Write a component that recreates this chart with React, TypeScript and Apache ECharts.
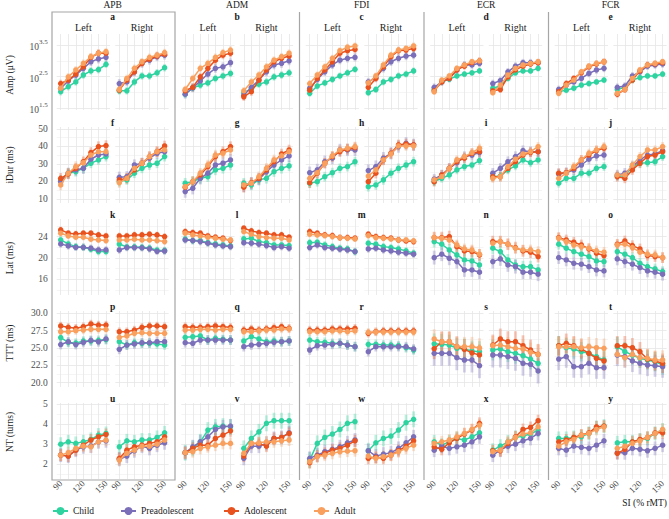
import React, { useEffect, useRef } from 'react';
import * as echarts from 'echarts';

const SI = [90, 100, 110, 120, 130, 140, 150];
const SI_LABELS = [90, 120, 150];
const MUSCLES = ['APB', 'ADM', 'FDI', 'ECR', 'FCR'];
const SIDES = ['Left', 'Right'];
const GROUPS = ['Child', 'Preadolescent', 'Adolescent', 'Adult'];
const COLORS = ['#2fd3a0', '#7a6fb8', '#e8521e', '#f9a05e'];
const LETTERS = [
  ['a', 'b', 'c', 'd', 'e'],
  ['f', 'g', 'h', 'i', 'j'],
  ['k', 'l', 'm', 'n', 'o'],
  ['p', 'q', 'r', 's', 't'],
  ['u', 'v', 'w', 'x', 'y'],
];
const Y_TITLES = ['Amp (μV)', 'iDur (ms)', 'Lat (ms)', 'TTT (ms)', 'NT (turns)'];

// panel order: APB L, APB R, ADM L, ADM R, FDI L, FDI R, ECR L, ECR R, FCR L, FCR R
// Amp in log10(µV)
const ampChild = [
  [2.02, 2.18, 2.33, 2.55, 2.68, 2.72, 2.89],
  [2.05, 2.05, 2.33, 2.52, 2.52, 2.62, 2.78],
  [1.94, 2.14, 2.23, 2.30, 2.44, 2.52, 2.60],
  [1.99, 2.12, 2.26, 2.33, 2.49, 2.55, 2.62],
  [1.97, 2.20, 2.30, 2.41, 2.52, 2.62, 2.73],
  [1.99, 2.09, 2.33, 2.41, 2.52, 2.58, 2.68],
  [2.09, 2.33, 2.42, 2.52, 2.58, 2.62, 2.68],
  [2.13, 2.20, 2.44, 2.62, 2.68, 2.68, 2.76],
  [2.02, 2.07, 2.13, 2.23, 2.28, 2.33, 2.39],
  [2.09, 2.16, 2.39, 2.47, 2.52, 2.52, 2.58],
];
const ampPread = [
  [2.13, 2.36, 2.55, 2.76, 2.97, 3.06, 3.11],
  [2.28, 2.33, 2.65, 2.92, 3.02, 3.13, 3.18],
  [1.94, 2.14, 2.36, 2.58, 2.76, 2.81, 2.94],
  [1.91, 2.16, 2.39, 2.65, 2.87, 2.92, 3.00],
  [2.13, 2.41, 2.65, 2.87, 3.02, 3.08, 3.11],
  [2.33, 2.47, 2.76, 2.97, 3.08, 3.15, 3.18],
  [2.16, 2.33, 2.44, 2.71, 2.87, 2.87, 2.92],
  [2.28, 2.37, 2.65, 2.83, 2.94, 2.94, 2.94],
  [2.09, 2.23, 2.33, 2.44, 2.60, 2.71, 2.76],
  [2.16, 2.20, 2.52, 2.65, 2.83, 2.87, 2.90],
];
const ampAdol = [
  [2.28, 2.39, 2.58, 2.81, 3.11, 3.24, 3.24],
  [2.07, 2.39, 2.65, 2.92, 3.05, 3.15, 3.21],
  [2.05, 2.16, 2.49, 2.76, 3.02, 3.18, 3.24],
  [1.86, 2.02, 2.39, 2.71, 2.97, 3.08, 3.15],
  [2.07, 2.44, 2.71, 2.97, 3.24, 3.32, 3.36],
  [2.16, 2.44, 2.81, 3.13, 3.32, 3.34, 3.39],
  [2.05, 2.33, 2.44, 2.71, 2.83, 2.94, 3.00],
  [2.05, 2.09, 2.49, 2.71, 2.83, 2.90, 2.94],
  [2.02, 2.28, 2.44, 2.62, 2.81, 2.90, 2.97],
  [1.94, 2.09, 2.39, 2.68, 2.87, 2.90, 2.94],
];
const ampAdult = [
  [2.13, 2.49, 2.71, 2.92, 3.13, 3.24, 3.29],
  [2.09, 2.44, 2.76, 2.97, 3.11, 3.18, 3.26],
  [2.09, 2.44, 2.76, 2.92, 3.11, 3.26, 3.34],
  [2.05, 2.33, 2.55, 2.81, 3.02, 3.13, 3.24],
  [2.28, 2.55, 2.81, 3.08, 3.32, 3.43, 3.47],
  [2.30, 2.52, 2.87, 3.18, 3.34, 3.39, 3.47],
  [2.02, 2.39, 2.52, 2.76, 2.87, 2.97, 3.00],
  [1.99, 2.23, 2.55, 2.76, 2.87, 2.92, 2.97],
  [1.97, 2.23, 2.39, 2.65, 2.83, 2.92, 2.97],
  [1.97, 2.09, 2.44, 2.71, 2.87, 2.92, 2.97],
];

const idurChild = [
  [20.9, 24.7, 25.6, 27.5, 30.4, 32.3, 34.2],
  [19.9, 20.9, 24.7, 27.5, 29.4, 30.4, 34.2],
  [19.0, 19.9, 21.8, 22.7, 26.6, 27.5, 29.4],
  [19.0, 18.0, 20.9, 21.8, 25.6, 27.5, 28.9],
  [19.0, 19.9, 22.7, 25.0, 27.5, 28.5, 31.3],
  [17.0, 18.0, 20.9, 24.7, 27.5, 29.4, 31.3],
  [19.9, 21.8, 23.7, 26.6, 28.5, 29.4, 31.9],
  [22.7, 23.1, 26.6, 28.9, 32.3, 30.7, 32.3],
  [19.0, 21.8, 21.8, 24.7, 24.7, 27.5, 28.5],
  [23.1, 23.1, 28.5, 30.4, 30.7, 31.3, 34.2],
];
const idurPread = [
  [19.9, 24.7, 26.6, 27.5, 32.7, 35.1, 35.7],
  [22.4, 22.7, 29.4, 30.4, 33.3, 36.1, 37.0],
  [14.2, 16.1, 21.8, 24.7, 29.4, 30.4, 32.3],
  [17.4, 19.0, 21.3, 25.6, 29.4, 32.3, 34.6],
  [25.0, 26.6, 31.3, 33.3, 38.0, 38.0, 38.0],
  [26.2, 28.5, 33.3, 36.1, 39.9, 41.8, 40.9],
  [21.3, 23.7, 27.5, 30.7, 34.2, 35.1, 36.5],
  [24.7, 27.5, 31.3, 34.2, 37.6, 37.0, 37.0],
  [24.3, 25.0, 26.6, 29.4, 32.7, 34.6, 35.1],
  [23.7, 24.7, 28.5, 32.3, 35.1, 35.7, 37.6],
];
const idurAdol = [
  [21.8, 24.3, 27.5, 31.3, 36.5, 39.9, 40.5],
  [20.9, 21.8, 26.6, 30.4, 34.2, 37.0, 40.3],
  [16.7, 19.9, 23.7, 28.5, 34.2, 37.0, 39.9],
  [16.7, 19.3, 21.8, 26.6, 31.3, 35.7, 38.0],
  [19.3, 24.7, 30.4, 34.2, 37.0, 38.4, 39.3],
  [19.9, 24.7, 32.3, 36.1, 40.9, 41.4, 40.9],
  [19.9, 23.7, 27.5, 31.3, 33.3, 36.1, 37.0],
  [22.7, 22.7, 27.5, 31.3, 35.1, 36.5, 37.0],
  [24.7, 25.0, 27.5, 32.3, 35.1, 37.6, 39.0],
  [22.7, 21.8, 26.6, 30.4, 34.2, 35.1, 37.0],
];
const idurAdult = [
  [18.0, 24.7, 28.5, 30.7, 35.1, 37.0, 37.0],
  [19.3, 21.8, 27.5, 30.4, 34.2, 37.0, 38.0],
  [17.0, 19.9, 24.7, 29.4, 35.1, 36.1, 38.0],
  [18.0, 19.0, 22.7, 27.5, 32.3, 34.6, 37.0],
  [21.8, 25.0, 30.4, 34.6, 38.0, 39.0, 39.9],
  [23.1, 26.6, 32.3, 35.7, 40.3, 40.3, 40.3],
  [20.9, 22.7, 27.5, 32.3, 34.2, 36.5, 39.0],
  [21.8, 22.7, 28.5, 32.7, 35.7, 37.0, 39.9],
  [21.8, 24.7, 28.5, 32.3, 36.1, 38.0, 39.9],
  [23.7, 23.7, 29.4, 34.2, 38.0, 38.0, 39.9],
];

const latChild = [
  [23.38, 22.63, 22.12, 22.0, 21.64, 21.19, 21.19],
  [22.6, 22.05, 22.05, 22.0, 21.85, 21.45, 21.4],
  [23.51, 23.25, 23.25, 22.87, 22.63, 22.44, 22.26],
  [23.57, 23.7, 23.06, 22.87, 22.44, 22.44, 22.31],
  [22.87, 22.95, 22.44, 22.12, 21.82, 21.69, 21.19],
  [22.76, 22.57, 22.12, 21.94, 21.69, 21.32, 20.89],
  [23.06, 22.57, 21.5, 20.57, 19.63, 19.44, 18.69],
  [21.82, 21.19, 19.63, 18.69, 18.37, 18.37, 17.75],
  [22.57, 21.82, 21.19, 20.7, 20.25, 19.44, 19.31],
  [21.19, 20.7, 20.06, 19.0, 18.37, 17.94, 17.44],
];
const latPread = [
  [22.63, 22.26, 22.0, 22.0, 21.82, 21.5, 21.5],
  [21.5, 21.95, 21.95, 21.9, 21.7, 21.25, 21.3],
  [23.38, 23.25, 23.06, 22.76, 22.44, 22.26, 22.12],
  [22.87, 22.76, 22.57, 22.31, 21.94, 22.12, 21.82],
  [21.94, 22.44, 21.94, 21.82, 21.64, 21.5, 21.19],
  [21.69, 21.82, 21.5, 21.32, 21.07, 20.89, 20.7],
  [20.06, 20.7, 19.94, 19.31, 17.75, 17.75, 17.32],
  [19.31, 19.82, 18.69, 18.37, 17.32, 17.32, 16.95],
  [20.06, 19.63, 19.0, 18.82, 18.37, 17.75, 17.57],
  [19.82, 19.31, 18.82, 18.19, 17.57, 17.32, 16.95],
];
const latAdol = [
  [25.26, 24.64, 24.51, 24.64, 24.64, 24.32, 24.13],
  [24.13, 24.13, 24.32, 24.32, 24.45, 24.32, 24.0],
  [24.94, 24.75, 24.64, 24.13, 23.89, 23.7, 23.25],
  [25.58, 25.07, 24.75, 24.64, 24.32, 24.32, 23.89],
  [24.94, 24.64, 24.32, 24.19, 23.81, 23.81, 23.7],
  [24.45, 24.0, 23.81, 23.7, 23.38, 23.19, 23.06],
  [23.81, 23.81, 24.0, 22.12, 21.32, 21.19, 20.57],
  [23.06, 23.06, 22.57, 21.94, 21.32, 21.07, 20.25],
  [23.81, 23.38, 22.95, 22.44, 21.69, 20.89, 20.44],
  [22.57, 23.19, 22.31, 21.69, 20.44, 20.25, 20.06],
];
const latAdult = [
  [24.64, 24.13, 23.89, 23.89, 23.51, 23.38, 23.25],
  [23.38, 23.38, 23.51, 23.38, 23.38, 23.25, 23.06],
  [24.64, 24.32, 24.13, 23.89, 23.7, 23.51, 23.38],
  [24.94, 24.45, 24.0, 23.81, 23.7, 23.7, 23.38],
  [24.45, 24.32, 24.19, 24.0, 23.81, 23.7, 23.57],
  [24.19, 23.81, 23.7, 23.57, 23.38, 23.38, 23.19],
  [23.81, 23.7, 23.38, 22.44, 21.69, 21.5, 20.7],
  [22.76, 23.06, 22.57, 21.82, 21.5, 21.5, 21.19],
  [23.7, 23.06, 22.44, 22.12, 21.82, 21.32, 21.07],
  [22.44, 22.57, 21.94, 21.07, 20.7, 20.57, 20.06],
];

const tttChild = [
  [26.5, 25.8, 25.7, 26.0, 26.0, 26.1, 26.2],
  [25.91, 25.43, 25.76, 25.68, 25.68, 25.58, 25.43],
  [26.54, 26.63, 26.73, 26.15, 26.4, 26.25, 26.15],
  [26.01, 26.63, 26.3, 25.91, 26.01, 25.91, 26.01],
  [26.15, 25.91, 25.82, 25.68, 25.68, 25.43, 25.19],
  [25.53, 25.53, 25.43, 25.43, 25.33, 25.04, 24.71],
  [25.6, 25.53, 25.43, 24.96, 24.86, 24.57, 24.47],
  [24.71, 24.86, 24.47, 24.24, 23.89, 23.41, 22.8],
  [25.33, 25.04, 24.86, 24.47, 24.24, 23.75, 23.27],
  [25.19, 24.47, 23.99, 23.52, 23.27, 23.03, 22.55],
];
const tttPread = [
  [25.5, 25.9, 25.5, 25.8, 26.1, 25.9, 26.3],
  [24.81, 25.43, 25.58, 25.76, 25.76, 25.91, 25.91],
  [25.76, 25.68, 26.15, 26.15, 26.15, 26.15, 26.15],
  [25.19, 25.43, 25.53, 25.68, 25.82, 25.91, 26.01],
  [24.71, 25.33, 25.43, 25.53, 25.68, 25.43, 25.19],
  [24.47, 25.19, 25.19, 25.19, 25.19, 25.19, 24.86],
  [24.24, 24.24, 24.24, 23.6, 23.27, 23.27, 22.45],
  [23.99, 23.99, 23.75, 23.52, 22.8, 22.65, 21.69],
  [23.41, 23.75, 22.31, 22.31, 22.8, 22.16, 22.16],
  [23.99, 23.75, 23.13, 22.8, 22.55, 22.45, 22.31],
];
const tttAdol = [
  [28.17, 27.98, 27.84, 28.07, 28.46, 28.31, 28.31],
  [27.35, 27.35, 27.59, 27.98, 28.17, 28.17, 28.07],
  [28.07, 27.98, 27.98, 28.07, 28.17, 28.07, 27.98],
  [27.59, 27.74, 27.59, 27.74, 27.93, 28.07, 27.84],
  [27.59, 27.59, 27.59, 27.74, 27.74, 27.74, 27.84],
  [27.12, 27.35, 27.45, 27.45, 27.45, 27.45, 27.45],
  [24.9, 25.9, 25.9, 25.2, 24.8, 24.3, 24.0],
  [25.43, 26.3, 25.91, 25.91, 25.33, 24.71, 24.09],
  [25.33, 25.68, 25.33, 24.86, 24.24, 23.52, 23.13],
  [25.33, 25.33, 25.04, 24.47, 23.41, 23.13, 22.8],
];
const tttAdult = [
  [27.35, 27.35, 27.49, 27.59, 27.69, 27.69, 27.69],
  [26.54, 26.73, 27.12, 27.2, 27.12, 27.12, 27.12],
  [27.59, 27.59, 27.69, 27.69, 27.59, 27.69, 27.69],
  [27.35, 27.35, 27.45, 27.59, 27.59, 27.74, 27.74],
  [27.35, 27.35, 27.35, 27.45, 27.45, 27.35, 27.45],
  [27.26, 27.3, 27.3, 27.3, 27.3, 27.3, 27.3],
  [26.3, 25.9, 25.9, 25.2, 25.2, 25.2, 25.0],
  [25.33, 25.43, 25.19, 24.96, 24.86, 24.38, 24.09],
  [25.19, 25.19, 25.19, 25.04, 25.19, 25.04, 24.96],
  [24.09, 23.6, 24.09, 23.6, 23.52, 23.27, 23.27],
];

const ntChild = [
  [3.0, 3.12, 3.04, 3.12, 3.24, 3.46, 3.54],
  [2.87, 3.17, 3.12, 3.21, 3.21, 3.34, 3.57],
  [2.57, 2.79, 3.12, 3.71, 3.87, 3.91, 3.87],
  [2.79, 3.29, 3.62, 4.05, 4.18, 4.18, 4.18],
  [2.20, 3.04, 3.34, 3.51, 3.74, 4.05, 4.13],
  [2.67, 3.07, 3.29, 3.41, 3.71, 4.08, 4.25],
  [3.12, 2.95, 3.12, 3.29, 3.21, 3.37, 3.57],
  [2.70, 2.90, 3.12, 3.34, 3.41, 3.51, 3.71],
  [3.29, 3.29, 3.34, 3.37, 3.54, 3.84, 3.91],
  [3.07, 3.12, 3.12, 3.21, 3.29, 3.54, 3.71],
];
const ntPread = [
  [2.45, 2.40, 2.70, 2.87, 2.90, 3.12, 3.17],
  [2.24, 2.40, 2.67, 2.90, 2.79, 2.95, 3.07],
  [2.57, 2.87, 3.12, 3.37, 3.74, 3.87, 3.91],
  [2.29, 2.90, 2.90, 3.04, 3.29, 3.34, 3.57],
  [2.29, 2.45, 2.62, 2.74, 2.87, 3.07, 3.21],
  [2.67, 2.40, 2.50, 2.57, 2.79, 3.07, 3.37],
  [2.70, 2.90, 2.79, 2.87, 2.95, 3.12, 3.37],
  [2.45, 2.70, 2.90, 3.0, 3.17, 3.29, 3.54],
  [2.79, 2.70, 2.90, 2.84, 2.79, 2.95, 3.17],
  [2.57, 2.57, 2.79, 2.74, 2.67, 2.79, 2.95],
];
const ntAdol = [
  [2.45, 2.40, 2.70, 2.95, 3.21, 3.37, 3.49],
  [2.29, 2.70, 2.87, 2.95, 3.04, 3.12, 3.37],
  [2.57, 2.79, 2.95, 2.95, 3.29, 3.46, 3.67],
  [2.40, 3.04, 3.04, 2.90, 3.29, 3.34, 3.54],
  [2.07, 2.40, 2.54, 2.70, 2.79, 2.95, 3.17],
  [2.29, 2.34, 2.29, 2.45, 2.67, 2.90, 3.17],
  [2.87, 2.74, 3.07, 3.29, 3.51, 3.71, 4.05],
  [2.67, 2.67, 3.04, 3.37, 3.74, 3.84, 4.18],
  [3.12, 3.21, 3.34, 3.46, 3.57, 3.87, 3.91],
  [2.54, 2.74, 3.12, 3.24, 3.34, 3.57, 3.57],
];
const ntAdult = [
  [2.45, 2.57, 2.79, 2.90, 2.87, 3.12, 3.20],
  [2.20, 2.54, 2.70, 2.90, 2.90, 3.0, 3.21],
  [2.57, 2.62, 2.79, 2.87, 2.95, 3.04, 3.04],
  [2.54, 3.04, 3.07, 3.12, 3.12, 3.17, 3.21],
  [2.12, 2.37, 2.45, 2.54, 2.62, 2.65, 2.67],
  [2.40, 2.29, 2.37, 2.45, 2.62, 2.79, 2.95],
  [3.04, 3.12, 3.21, 3.37, 3.54, 3.74, 3.96],
  [2.62, 2.70, 3.12, 3.34, 3.51, 3.57, 3.87],
  [2.90, 3.12, 3.24, 3.46, 3.54, 3.74, 3.87],
  [2.79, 2.90, 3.04, 3.17, 3.34, 3.54, 3.74],
];

// error half-widths per muscle: [Child, Preadolescent, Adolescent, Adult]
const ampErr = [[0.12, 0.14, 0.12, 0.12], [0.12, 0.14, 0.13, 0.12], [0.11, 0.13, 0.12, 0.11], [0.10, 0.12, 0.11, 0.10], [0.10, 0.12, 0.11, 0.10]];
const idurErr = [[2.8, 3.2, 3.0, 3.0], [3.0, 3.5, 3.0, 3.0], [2.8, 3.5, 3.0, 2.8], [2.5, 3.0, 2.8, 2.6], [2.5, 3.0, 2.8, 2.6]];
const latErr = [[0.7, 0.7, 0.6, 0.6], [0.7, 0.7, 0.6, 0.6], [0.7, 0.7, 0.6, 0.6], [1.1, 1.3, 1.1, 1.0], [1.0, 1.2, 1.0, 1.0]];
const tttErr = [[0.7, 0.7, 0.6, 0.6], [0.7, 0.7, 0.6, 0.6], [0.7, 0.7, 0.6, 0.6], [1.5, 1.8, 1.5, 1.4], [1.4, 1.6, 1.4, 1.4]];
const ntErr = [[0.35, 0.35, 0.3, 0.3], [0.4, 0.35, 0.3, 0.3], [0.4, 0.35, 0.3, 0.3], [0.35, 0.35, 0.3, 0.3], [0.35, 0.35, 0.3, 0.3]];

const AMP_TICKS = [1.5, 2, 2.5, 3, 3.5];
const AMP_LABELS = [1.5, 2.5, 3.5];
const IDUR_TICKS = [10, 15, 20, 25, 30, 35, 40, 45, 50];
const IDUR_LABELS = [10, 20, 30, 40, 50];
const LAT_TICKS = [14, 16, 18, 20, 22, 24, 26];
const LAT_LABELS = [16, 20, 24];
const TTT_TICKS = [20, 21.25, 22.5, 23.75, 25, 26.25, 27.5, 28.75, 30];
const TTT_LABELS = [20, 22.5, 25, 27.5, 30];
const NT_TICKS = [1.5, 2, 2.5, 3, 3.5, 4, 4.5, 5];
const NT_LABELS = [2, 3, 4, 5];

const FONT = 'Liberation Serif';
const MAJ = '#e6e6e6';
const MIN = '#f2f2f2';

const ROWS = [
  { data: [ampChild, ampPread, ampAdol, ampAdult], err: ampErr, min: 1.44, max: 3.85, ticks: AMP_TICKS, labels: AMP_LABELS, colors: [MAJ, MIN], fmt: (v: number) => `{b|10}{s|${v.toFixed(1)}}` },
  { data: [idurChild, idurPread, idurAdol, idurAdult], err: idurErr, min: 7.7, max: 51.1, ticks: IDUR_TICKS, labels: IDUR_LABELS, colors: [MAJ, MIN], fmt: (v: number) => `${v}` },
  { data: [latChild, latPread, latAdol, latAdult], err: latErr, min: 13.05, max: 27.3, ticks: LAT_TICKS, labels: LAT_LABELS, colors: [MIN, MAJ], fmt: (v: number) => `${v}` },
  { data: [tttChild, tttPread, tttAdol, tttAdult], err: tttErr, min: 19.38, max: 30.33, ticks: TTT_TICKS, labels: TTT_LABELS, colors: [MAJ, MIN], fmt: (v: number) => v.toFixed(1) },
  { data: [ntChild, ntPread, ntAdol, ntAdult], err: ntErr, min: 1.25, max: 5.07, ticks: NT_TICKS, labels: NT_LABELS, colors: [MIN, MAJ], fmt: (v: number) => `${v}` },
];

// layout
const ROW_TOPS = [34, 127, 219, 311, 403];
const PANEL_H = 76;
const PANEL_W = 53.3;
const COL_STEP = 124.5;
const SIDE_STEP = 58.6;
const LEFT0 = 56.7;
const X_MIN = 84.7;
const X_MAX = 155.3;
const LETTER_Y = [17, 123, 215, 307, 399];
const TITLE_Y = [75, 165, 258, 343, 432];
const LEGEND_X = [52, 120, 223, 313];

function buildOption() {
  const grid: any[] = [];
  const xAxis: any[] = [];
  const yAxis: any[] = [];
  const series: any[] = [];
  const graphic: any[] = [];
  let gi = 0;
  ROWS.forEach((row, r) => {
    for (let m = 0; m < 5; m++) {
      for (let s = 0; s < 2; s++) {
        const p = m * 2 + s;
        grid.push({ left: LEFT0 + COL_STEP * m + SIDE_STEP * s, top: ROW_TOPS[r], width: PANEL_W, height: PANEL_H });
        xAxis.push({
          gridIndex: gi, type: 'value', min: X_MIN, max: X_MAX,
          axisLine: { show: false },
          axisTick: { show: false, customValues: SI },
          splitLine: { show: true, lineStyle: { color: MAJ, width: 0.8 } },
          axisLabel: { show: r === 4, customValues: SI_LABELS, rotate: 45, fontSize: 9, color: '#4d4d4d', margin: 3, fontFamily: FONT },
        });
        yAxis.push({
          gridIndex: gi, type: 'value', min: row.min, max: row.max,
          axisLine: { show: false },
          axisTick: { show: false, customValues: row.ticks },
          splitLine: { show: true, lineStyle: { color: row.colors, width: 0.8 } },
          axisLabel: {
            show: m === 0 && s === 0, customValues: row.labels, formatter: row.fmt,
            fontSize: 9.5, color: '#4d4d4d', margin: 9, fontFamily: FONT,
            rich: {
              b: { fontSize: 9.5, color: '#4d4d4d', fontFamily: FONT, lineHeight: 14, verticalAlign: 'bottom' },
              s: { fontSize: 7, color: '#4d4d4d', fontFamily: FONT, lineHeight: 8, verticalAlign: 'top' },
            },
          },
        });
        const errData: any[] = [];
        GROUPS.forEach((g, k) => {
          const vals = row.data[k][p];
          const e = row.err[m][k];
          SI.forEach((x, i) => errData.push([x, vals[i] - e, vals[i] + e, k]));
        });
        series.push({
          type: 'custom', xAxisIndex: gi, yAxisIndex: gi, data: errData, silent: true, z: 1, clip: true,
          encode: { x: 0, y: [1, 2] },
          renderItem: (params: any, api: any) => {
            const x = api.value(0);
            const p1 = api.coord([x, api.value(1)]);
            const p2 = api.coord([x, api.value(2)]);
            const k = api.value(3);
            return {
              type: 'line',
              shape: { x1: p1[0], y1: p1[1], x2: p2[0], y2: p2[1] },
              style: { stroke: COLORS[k], lineWidth: 2.8, opacity: 0.32 },
            };
          },
        });
        GROUPS.forEach((g, k) => {
          series.push({
            type: 'line', name: g, xAxisIndex: gi, yAxisIndex: gi, z: 2 + k,
            data: SI.map((x, i) => [x, row.data[k][p][i]]),
            symbol: 'circle', symbolSize: 5.5, showSymbol: true,
            itemStyle: { color: COLORS[k] },
            lineStyle: { color: COLORS[k], width: 1.5 },
          });
        });
        gi++;
      }
    }
  });

  // texts
  MUSCLES.forEach((mus, m) => {
    const cx = LEFT0 + COL_STEP * m + (SIDE_STEP + PANEL_W) / 2;
    graphic.push({ type: 'text', x: cx, y: 5, style: { text: mus, fontSize: 9.5, fontFamily: FONT, fill: '#1a1a1a', align: 'center', verticalAlign: 'middle' } });
    SIDES.forEach((sd, s) => {
      graphic.push({ type: 'text', x: LEFT0 + COL_STEP * m + SIDE_STEP * s + PANEL_W / 2, y: 27, style: { text: sd, fontSize: 10, fontFamily: FONT, fill: '#1a1a1a', align: 'center', verticalAlign: 'middle' } });
    });
    LETTERS.forEach((row, r) => {
      graphic.push({ type: 'text', x: cx, y: LETTER_Y[r], style: { text: row[m], fontSize: 9.5, fontWeight: 'bold', fontFamily: FONT, fill: '#1a1a1a', align: 'center', verticalAlign: 'middle' } });
    });
  });
  Y_TITLES.forEach((t, r) => {
    graphic.push({ type: 'text', x: 10, y: TITLE_Y[r], rotation: Math.PI / 2, style: { text: t, fontSize: 9.5, fontFamily: FONT, fill: '#1a1a1a', align: 'center', verticalAlign: 'middle' } });
  });
  graphic.push({ type: 'rect', shape: { x: 52, y: 12, width: 123, height: 468 }, style: { fill: 'none', stroke: '#a6a6a6', lineWidth: 1.2 }, z: 10 });
  [1, 2, 3].forEach((i) => {
    const x = 175 + COL_STEP * i;
    graphic.push({ type: 'line', shape: { x1: x, y1: 12, x2: x, y2: 480 }, style: { stroke: '#a6a6a6', lineWidth: 1.2 }, z: 10 });
  });
  graphic.push({ type: 'text', x: 667, y: 503, style: { text: 'SI (% rMT)', fontSize: 9.5, fontFamily: FONT, fill: '#1a1a1a', align: 'right', verticalAlign: 'middle' } });

  const legend = GROUPS.map((g, k) => ({
    data: [g], left: LEGEND_X[k], top: 506, padding: 0, itemWidth: 15, itemHeight: 10, itemGap: 0,
    textStyle: { fontSize: 9.5, fontFamily: FONT, color: '#1a1a1a' }, selectedMode: false,
  }));

  return { animation: false, textStyle: { fontFamily: FONT }, grid, xAxis, yAxis, series, graphic, legend };
}

export default function App() {
  const ref = useRef<HTMLDivElement>(null);
  useEffect(() => {
    if (!ref.current) return;
    const chart = echarts.init(ref.current, undefined, { renderer: 'svg' });
    chart.setOption(buildOption() as any);
    return () => chart.dispose();
  }, []);
  return <div ref={ref} style={{ position: 'fixed', left: 0, top: 0, width: 669, height: 519, background: '#fff' }} />;
}
